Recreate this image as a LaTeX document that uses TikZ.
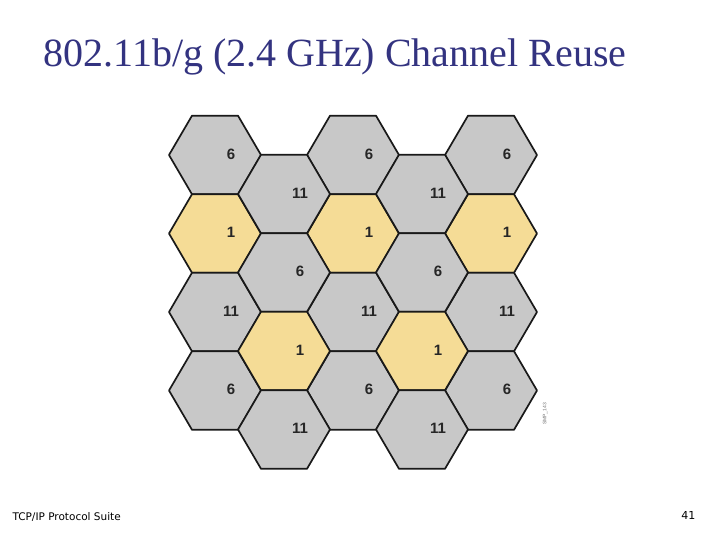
\documentclass[tikz,border=0pt]{standalone}
\usepackage{fontspec}
\setmainfont{Liberation Serif}
\newfontfamily\lsans{Liberation Sans}
\newfontfamily\dsans{DejaVu Sans}
\definecolor{hexgray}{HTML}{C8C8C8}
\definecolor{hexyel}{HTML}{F5DC96}
\definecolor{titleblue}{HTML}{333380}
\begin{document}
\begin{tikzpicture}[x=1pt,y=-1pt,
  cell/.style={draw=black!90,line width=1.7pt,line join=round},
  lab/.style={font=\lsans\bfseries\fontsize{15}{15}\selectfont,text=black!85}]
\useasboundingbox (0,0) rectangle (720,540);
\def\R{46}
\newcommand\hexcell[4]{% x y fill label
  \fill[#3] (#1-\R,#2) -- (#1-\R/2,#2-39.3) -- (#1+\R/2,#2-39.3) -- (#1+\R,#2) -- (#1+\R/2,#2+39.3) -- (#1-\R/2,#2+39.3) -- cycle;
  \draw[cell] (#1-\R,#2) -- (#1-\R/2,#2-39.3) -- (#1+\R/2,#2-39.3) -- (#1+\R,#2) -- (#1+\R/2,#2+39.3) -- (#1-\R/2,#2+39.3) -- cycle;
  \node[lab] at (#1+16,#2-1) {#4};}
\foreach \cx in {215,353,491}{
  \hexcell{\cx}{155}{hexgray}{6}
  \hexcell{\cx}{233.5}{hexyel}{1}
  \hexcell{\cx}{312}{hexgray}{11}
  \hexcell{\cx}{390.5}{hexgray}{6}}
\foreach \cx in {284,422}{
  \hexcell{\cx}{194}{hexgray}{11}
  \hexcell{\cx}{272.5}{hexgray}{6}
  \hexcell{\cx}{351}{hexyel}{1}
  \hexcell{\cx}{429.5}{hexgray}{11}}
\node[font=\lsans\fontsize{5}{5}\selectfont,text=black!55,rotate=90] (tag) at (545,414) {SMP\_143};
\node[font=\fontsize{40}{40}\selectfont,text=titleblue,anchor=west] (title) at (40,57) {802.11b/g (2.4 GHz) Channel Reuse};
\node[font=\dsans\fontsize{10.5}{10.5}\selectfont,anchor=west] (foot) at (9,517) {TCP/IP Protocol Suite};
\node[font=\dsans\fontsize{11}{11}\selectfont,anchor=east] (page) at (699,515) {41};
\end{tikzpicture}
\end{document}
